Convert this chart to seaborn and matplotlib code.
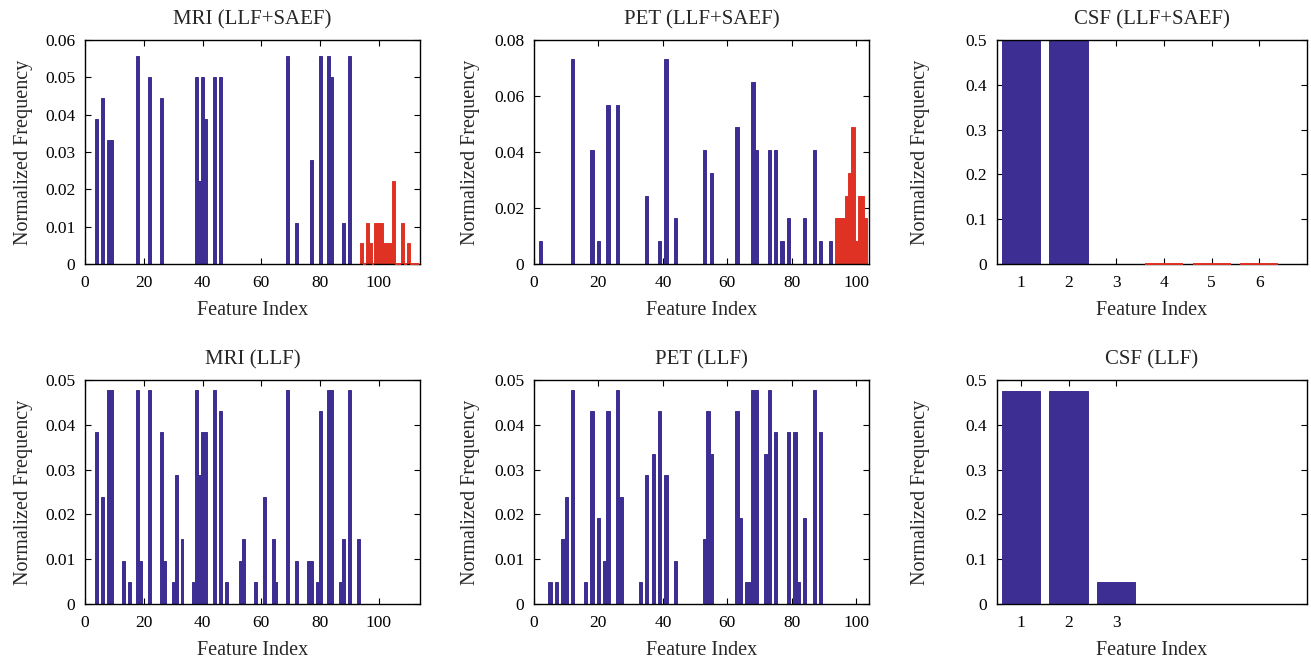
import matplotlib
matplotlib.use("Agg")
import matplotlib.pyplot as plt
import seaborn as sns
import pandas as pd
from matplotlib.ticker import FuncFormatter

# MRI (LLF+SAEF)
mri_saef_llf_idx = [4, 6, 8, 9, 18, 22, 26, 38, 39, 40, 41, 44, 46, 69, 72, 77, 80, 83, 84, 88, 90]
mri_saef_llf_val = [0.0389, 0.0444, 0.0333, 0.0333, 0.0556, 0.05, 0.0444, 0.05, 0.0222, 0.05, 0.0389,
                    0.05, 0.05, 0.0556, 0.0111, 0.0278, 0.0556, 0.0556, 0.05, 0.0111, 0.0556]
mri_saef_idx = [94, 95, 96, 97, 98, 99, 100, 101, 102, 103, 104, 105, 106, 107, 108, 109, 110, 111, 112, 113]
mri_saef_val = [0.0056, 0, 0.0111, 0.0056, 0, 0.0111, 0.0111, 0.0111, 0.0056, 0.0056, 0.0056, 0.0222,
                0, 0, 0.0111, 0, 0.0056, 0, 0, 0]

# PET (LLF+SAEF)
pet_saef_llf_idx = [2, 12, 18, 20, 23, 26, 35, 39, 41, 44, 53, 55, 63, 68, 69, 73, 75, 77, 79, 84, 87, 89, 92]
pet_saef_llf_val = [0.0081, 0.0732, 0.0407, 0.0081, 0.0569, 0.0569, 0.0244, 0.0081, 0.0732, 0.0163, 0.0407,
                    0.0325, 0.0488, 0.065, 0.0407, 0.0407, 0.0407, 0.0081, 0.0163, 0.0163, 0.0407, 0.0081, 0.0081]
pet_saef_idx = [94, 95, 96, 97, 98, 99, 100, 101, 102, 103]
pet_saef_val = [0.0163, 0.0163, 0.0163, 0.0244, 0.0325, 0.0488, 0.0081, 0.0244, 0.0244, 0.0163]

# CSF (LLF+SAEF)
csf_saef_llf_idx = [1, 2, 3]
csf_saef_llf_val = [0.5, 0.5, 0]
csf_saef_idx = [4, 5, 6]
csf_saef_val = [0, 0, 0]

# MRI (LLF)
mri_llf_idx = [4, 6, 8, 9, 13, 15, 18, 19, 22, 26, 27, 30, 31, 33, 37, 38, 39, 40, 41, 44, 46, 48, 53, 54,
               58, 61, 64, 65, 69, 72, 76, 77, 79, 80, 83, 84, 87, 88, 90, 93]
mri_llf_val = [0.0383, 0.0239, 0.0478, 0.0478, 0.0096, 0.0048, 0.0478, 0.0096, 0.0478, 0.0383, 0.0096, 0.0048,
               0.0287, 0.0144, 0.0048, 0.0478, 0.0287, 0.0383, 0.0383, 0.0478, 0.0431, 0.0048, 0.0096, 0.0144,
               0.0048, 0.0239, 0.0144, 0.0048, 0.0478, 0.0096, 0.0096, 0.0096, 0.0048, 0.0431, 0.0478, 0.0478,
               0.0048, 0.0144, 0.0478, 0.0144]

# PET (LLF)
pet_llf_idx = [5, 7, 9, 10, 12, 16, 18, 20, 22, 23, 26, 27, 33, 35, 37, 39, 41, 44, 53, 54, 55, 63, 64, 66,
               67, 68, 69, 72, 73, 75, 79, 81, 82, 84, 87, 89]
pet_llf_val = [0.0048, 0.0048, 0.0144, 0.0239, 0.0478, 0.0048, 0.0431, 0.0191, 0.0096, 0.0431, 0.0478, 0.0239,
               0.0048, 0.0287, 0.0335, 0.0431, 0.0287, 0.0096, 0.0144, 0.0431, 0.0335, 0.0431, 0.0191, 0.0048,
               0.0048, 0.0478, 0.0478, 0.0335, 0.0478, 0.0383, 0.0383, 0.0383, 0.0048, 0.0191, 0.0478, 0.0383]

# CSF (LLF)
csf_llf_idx = [1, 2, 3]
csf_llf_val = [0.475, 0.475, 0.05]

BLUE = "#3c2e93"
RED = "#e03224"

sns.set_style("ticks")
plt.rcParams["font.family"] = ["Liberation Serif", "DejaVu Serif"]

fig = plt.figure(figsize=(13.11, 6.59), dpi=100)

W = 1311.0
H = 659.0


def make_ax(x0, x1, y0, y1):
    return fig.add_axes([x0 / W, (H - y1) / H, (x1 - x0) / W, (y1 - y0) / H])


def fmt(v, pos):
    if abs(v) < 1e-12:
        return "0"
    return "%g" % round(v, 4)


def draw(ax, title, llf_idx, llf_val, saef_idx, saef_val, xlim, xticks, ylim, ystep, width, ypad):
    df = pd.DataFrame({
        "idx": llf_idx + saef_idx,
        "freq": llf_val + saef_val,
        "src": ["LLF"] * len(llf_idx) + ["SAEF"] * len(saef_idx),
    })
    sns.barplot(data=df, x="idx", y="freq", hue="src", palette={"LLF": BLUE, "SAEF": RED},
                native_scale=True, dodge=False, width=width, errorbar=None, saturation=1,
                legend=False, ax=ax)
    red_rgba = matplotlib.colors.to_rgba(RED)
    for p in ax.patches:
        fc = p.get_facecolor()
        p.set_edgecolor(fc)
        p.set_linewidth(0.7)
        if p.get_height() == 0 and tuple(fc) == red_rgba:
            # empty SAEF bins show as a red flat line on the baseline
            p.set_linewidth(1.4)
            p.set_zorder(3)
            p.set_clip_on(False)
    ax.set_xlim(*xlim)
    ax.set_xticks(xticks)
    ax.set_ylim(*ylim)
    n = int(round(ylim[1] / ystep))
    ax.set_yticks([i * ystep for i in range(n + 1)])
    ax.yaxis.set_major_formatter(FuncFormatter(fmt))
    ax.set_title(title, fontsize=15, pad=11)
    ax.set_xlabel("Feature Index", fontsize=14.5, labelpad=7)
    ax.set_ylabel("Normalized Frequency", fontsize=14.5, labelpad=ypad)
    ax.tick_params(direction="in", top=True, right=True, length=4, width=0.8,
                   labelsize=12.5, colors="black")
    ax.tick_params(axis="x", pad=8)
    ax.tick_params(axis="y", pad=7)
    for s in ax.spines.values():
        s.set_visible(True)
        s.set_color("black")
        s.set_linewidth(1.0)


ax1 = make_ax(85, 420, 40, 264)
draw(ax1, "MRI (LLF+SAEF)", mri_saef_llf_idx, mri_saef_llf_val, mri_saef_idx, mri_saef_val,
     (0, 114), [0, 20, 40, 60, 80, 100], (0, 0.06), 0.01, 1.0, 9)

ax2 = make_ax(534, 869, 40, 264)
draw(ax2, "PET (LLF+SAEF)", pet_saef_llf_idx, pet_saef_llf_val, pet_saef_idx, pet_saef_val,
     (0, 104), [0, 20, 40, 60, 80, 100], (0, 0.08), 0.02, 1.0, 10)

ax3 = make_ax(997, 1307, 40, 264)
draw(ax3, "CSF (LLF+SAEF)", csf_saef_llf_idx, csf_saef_llf_val, csf_saef_idx, csf_saef_val,
     (0.5, 7), [1, 2, 3, 4, 5, 6], (0, 0.5), 0.1, 0.8, 26)

ax4 = make_ax(85, 420, 380, 604)
draw(ax4, "MRI (LLF)", mri_llf_idx, mri_llf_val, [], [],
     (0, 114), [0, 20, 40, 60, 80, 100], (0, 0.05), 0.01, 1.0, 9)

ax5 = make_ax(534, 869, 380, 604)
draw(ax5, "PET (LLF)", pet_llf_idx, pet_llf_val, [], [],
     (0, 104), [0, 20, 40, 60, 80, 100], (0, 0.05), 0.01, 1.0, 10)

ax6 = make_ax(997, 1307, 380, 604)
draw(ax6, "CSF (LLF)", csf_llf_idx, csf_llf_val, [], [],
     (0.5, 7), [1, 2, 3], (0, 0.5), 0.1, 0.8, 26)

fig.savefig("out.png", dpi=100, facecolor="white")
